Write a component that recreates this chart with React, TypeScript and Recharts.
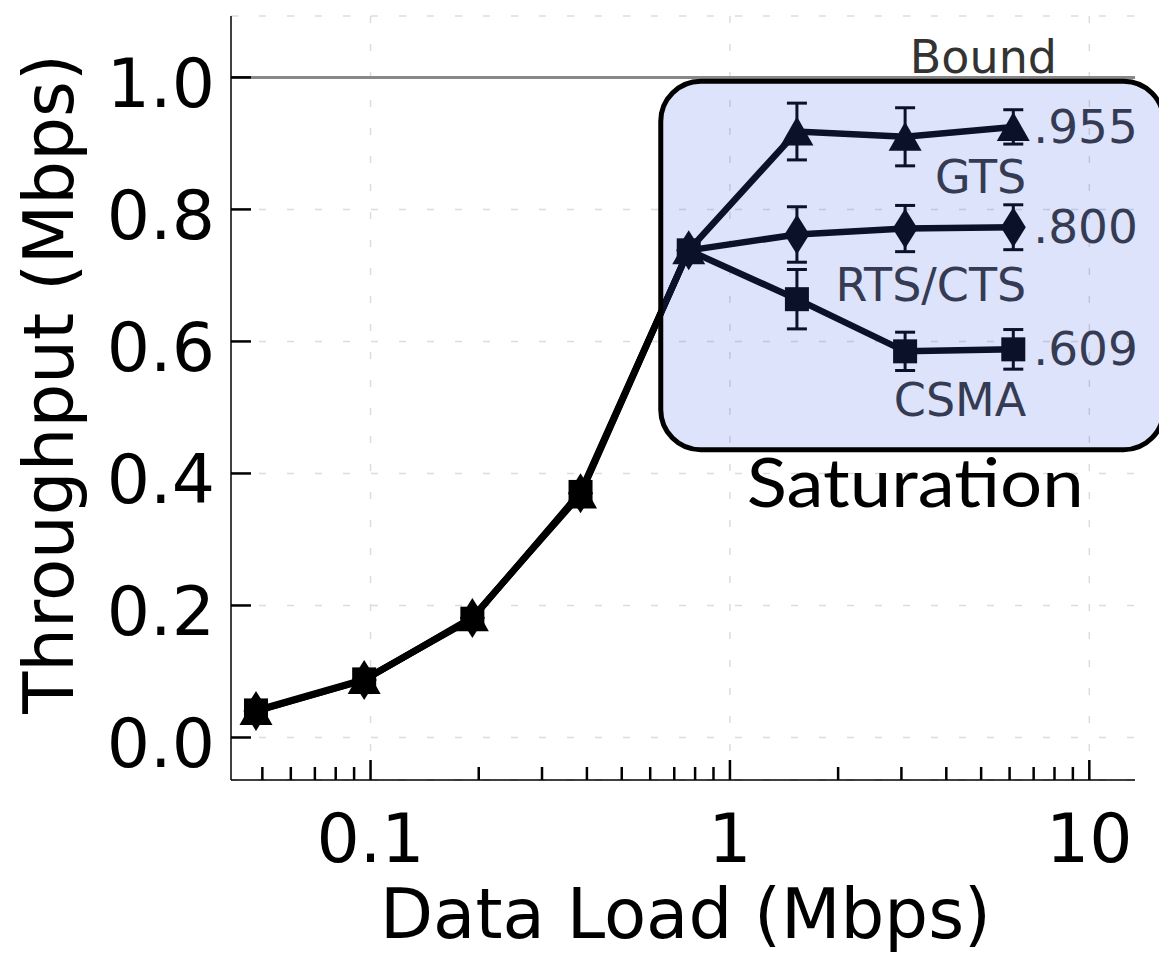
import React from 'react';
import {
  LineChart,
  Line,
  XAxis,
  YAxis,
  CartesianGrid,
  ReferenceLine,
  ReferenceArea,
  ErrorBar,
  LabelList,
  Label,
} from 'recharts';

// ---------- data ----------
const loads = [0.048, 0.096, 0.192, 0.384, 0.768, 1.536, 3.072, 6.144];
const gtsThroughput = [0.04, 0.087, 0.182, 0.368, 0.738, 0.918, 0.91, 0.925];
const gtsError = [null, null, null, null, null, 0.043, 0.044, 0.026];
const rtsThroughput = [0.04, 0.087, 0.181, 0.37, 0.738, 0.762, 0.771, 0.773];
const rtsError = [null, null, null, null, null, 0.042, 0.035, 0.034];
const csmaThroughput = [0.041, 0.088, 0.18, 0.372, 0.738, 0.664, 0.585, 0.588];
const csmaError = [null, null, null, null, null, 0.045, 0.029, 0.03];

const seriesNames = ['GTS', 'RTS/CTS', 'CSMA'];
const finalLabels = ['.955', '.800', '.609'];

const xMajorTicks = [0.1, 1, 10];
const xMinorTicks = [0.05, 0.06, 0.07, 0.08, 0.09, 0.2, 0.3, 0.4, 0.5, 0.6, 0.7, 0.8, 0.9, 2, 3, 4, 5, 6, 7, 8, 9];
const yTicks = [0, 0.2, 0.4, 0.6, 0.8, 1.0];
const xDomain = [0.0409, 13.4];
const yDomain = [-0.0644, 1.093];
const boundValue = 1.0;
const boundLabel = 'Bound';
const saturationLabel = 'Saturation';
const saturationX = [0.642, 16.1];
const saturationY = [0.436, 0.994];
const xTitle = 'Data Load (Mbps)';
const yTitle = 'Throughput (Mbps)';

const rows = loads.map((load, i) => ({
  load,
  gts: gtsThroughput[i],
  gtsErr: gtsError[i],
  rts: rtsThroughput[i],
  rtsErr: rtsError[i],
  csma: csmaThroughput[i],
  csmaErr: csmaError[i],
}));

// ---------- styles ----------
const FONT = "'DejaVu Sans', Verdana, sans-serif";
const LABEL_COLOR = '#353b53';
const NAME_DY = [66, 74, 67];

const triangleDot = (p: any) =>
  p.cx == null ? null : (
    <path key={`t${p.index}`} d={`M${p.cx},${p.cy - 15} L${p.cx + 16.5},${p.cy + 14} L${p.cx - 16.5},${p.cy + 14} Z`} fill="#000" />
  );
const diamondDot = (p: any) =>
  p.cx == null ? null : (
    <path key={`d${p.index}`} d={`M${p.cx},${p.cy - 20} L${p.cx + 12.5},${p.cy} L${p.cx},${p.cy + 20} L${p.cx - 12.5},${p.cy} Z`} fill="#000" />
  );
const squareDot = (p: any) =>
  p.cx == null ? null : <rect key={`s${p.index}`} x={p.cx - 12} y={p.cy - 12} width={24} height={24} fill="#000" />;

const BottomTick = (props: any) => {
  const { x, y, payload } = props;
  const v = payload.value;
  const major = xMajorTicks.includes(v);
  return (
    <g>
      <line x1={x} x2={x} y1={y} y2={y - (major ? 20 : 13)} stroke="#000" strokeWidth={2.5} />
      {major && (
        <text x={x} y={y + 82} textAnchor="middle" fontSize={68} fontFamily={FONT} fill="#000">
          {String(v)}
        </text>
      )}
    </g>
  );
};

const TopTick = (props: any) => {
  const { x, y } = props;
  return <line x1={x} x2={x} y1={y} y2={y + 13} stroke="#000" strokeWidth={2.5} />;
};

const LeftTick = (props: any) => {
  const { x, y, payload } = props;
  return (
    <g>
      <line x1={x} x2={x + 20} y1={y} y2={y} stroke="#000" strokeWidth={2.5} />
      <text x={x - 16} y={y + 29.5} textAnchor="end" fontSize={68} fontFamily={FONT} fill="#000">
        {Number(payload.value).toFixed(1)}
      </text>
    </g>
  );
};

const makeEndLabel = (s: number) => (props: any) => {
  const { index } = props;
  if (index !== loads.length - 1) return null;
  const x = props.x ?? props.viewBox?.x;
  const y = props.y ?? props.viewBox?.y;
  return (
    <g>
      <text x={x + 20} y={y + 16} fontSize={47} fontFamily={FONT} fill={LABEL_COLOR}>
        {finalLabels[s]}
      </text>
      <text x={x + 13} y={y + NAME_DY[s]} textAnchor="end" fontSize={46} fontFamily={FONT} fill={LABEL_COLOR}>
        {seriesNames[s]}
      </text>
    </g>
  );
};

const SaturationShape = (p: any) => (
  <g>
    <rect
      x={p.x}
      y={p.y}
      width={p.width}
      height={p.height}
      rx={40}
      ry={40}
      fill="#3f61ea"
      fillOpacity={0.175}
      stroke="#000"
      strokeWidth={5}
    />
    <text
      x={p.x + p.width / 2 + 3}
      y={p.y + p.height + 57}
      textAnchor="middle"
      fontSize={68}
      fontFamily="'Gill Sans', 'Gill Sans MT', Lato, sans-serif"
      fill="#000"
      textLength={337}
      lengthAdjust="spacingAndGlyphs"
    >
      {saturationLabel}
    </text>
  </g>
);

export default function App() {
  return (
    <LineChart width={1159} height={945} data={rows} margin={{ top: 8, right: 32, bottom: 0, left: 0 }}>
      <CartesianGrid
        stroke="#dcdcdc"
        strokeWidth={1.5}
        strokeDasharray="7 21"
        verticalValues={xMajorTicks}
        horizontal
        vertical
      />
      <XAxis
        dataKey="load"
        type="number"
        scale="log"
        domain={xDomain}
        allowDataOverflow
        ticks={[...xMinorTicks, ...xMajorTicks].sort((a, b) => a - b)}
        interval={0}
        height={173}
        tickSize={0}
        tickMargin={0}
        tickLine={false}
        tick={<BottomTick />}
        axisLine={{ stroke: '#000', strokeWidth: 1.5 }}
      >
        <Label
          content={(p: any) => {
            const vb = p.viewBox || { x: 223, y: 772, width: 904, height: 173 };
            return (
              <text x={vb.x + vb.width / 2 + 2.5} y={vb.y + 158} textAnchor="middle" fontSize={69} fontFamily={FONT} fill="#000">
                {xTitle}
              </text>
            );
          }}
        />
      </XAxis>
      <XAxis
        xAxisId="top"
        orientation="top"
        dataKey="load"
        type="number"
        scale="log"
        domain={xDomain}
        allowDataOverflow
        ticks={xMinorTicks}
        interval={0}
        height={0}
        tickSize={0}
        tickMargin={0}
        tickLine={false}
        tick={<TopTick />}
        axisLine={{ stroke: '#222', strokeWidth: 1.5 }}
      />
      <YAxis
        type="number"
        domain={yDomain}
        allowDataOverflow
        ticks={yTicks}
        interval={0}
        width={223}
        tickSize={0}
        tickMargin={0}
        tickLine={false}
        tick={<LeftTick />}
        axisLine={{ stroke: '#000', strokeWidth: 1.5 }}
      >
        <Label
          content={(p: any) => {
            const vb = p.viewBox || { x: 0, y: 8, width: 223, height: 764 };
            const cx = vb.x + 65;
            const cy = vb.y + vb.height / 2 - 14;
            return (
              <text x={cx} y={cy} transform={`rotate(-90, ${cx}, ${cy})`} textAnchor="middle" fontSize={69} fontFamily={FONT} fill="#000">
                {yTitle}
              </text>
            );
          }}
        />
      </YAxis>
      <YAxis
        yAxisId="right"
        orientation="right"
        type="number"
        domain={yDomain}
        allowDataOverflow
        width={0}
        tick={false}
        tickLine={false}
        axisLine={{ stroke: '#222', strokeWidth: 1.5 }}
      />
      <ReferenceLine
        y={boundValue}
        stroke="#888"
        strokeWidth={3}
        label={(p: any) => {
          const vb = p.viewBox || { x: 223, y: 69.5, width: 904 };
          return (
            <text x={vb.x + vb.width - 78} y={vb.y - 4.5} textAnchor="end" fontSize={46} fontFamily={FONT} fill="#333">
              {boundLabel}
            </text>
          );
        }}
      />
      <Line dataKey="csma" stroke="#000" strokeWidth={6.5} dot={squareDot} activeDot={false} isAnimationActive={false}>
        <ErrorBar dataKey="csmaErr" direction="y" width={10} strokeWidth={3} stroke="#000" />
        <LabelList dataKey="csma" content={makeEndLabel(2)} />
      </Line>
      <Line dataKey="rts" stroke="#000" strokeWidth={6.5} dot={diamondDot} activeDot={false} isAnimationActive={false}>
        <ErrorBar dataKey="rtsErr" direction="y" width={10} strokeWidth={3} stroke="#000" />
        <LabelList dataKey="rts" content={makeEndLabel(1)} />
      </Line>
      <Line dataKey="gts" stroke="#000" strokeWidth={6.5} dot={triangleDot} activeDot={false} isAnimationActive={false}>
        <ErrorBar dataKey="gtsErr" direction="y" width={10} strokeWidth={3} stroke="#000" />
        <LabelList dataKey="gts" content={makeEndLabel(0)} />
      </Line>
      <ReferenceArea
        x1={saturationX[0]}
        x2={saturationX[1]}
        y1={saturationY[0]}
        y2={saturationY[1]}
        ifOverflow="visible"
        zIndex={1500}
        shape={SaturationShape}
      />
    </LineChart>
  );
}
